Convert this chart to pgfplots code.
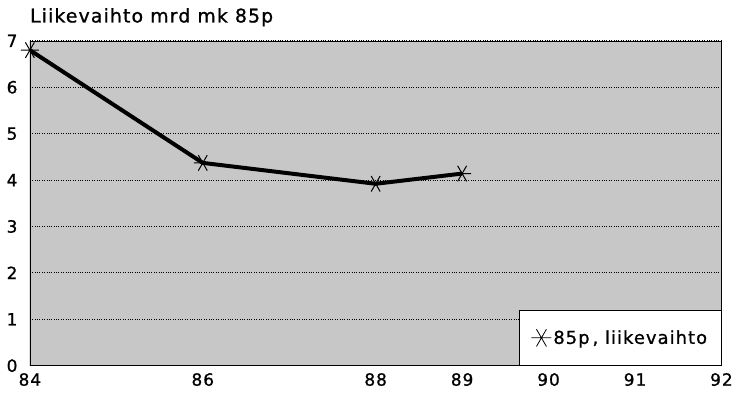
\documentclass[border=0pt]{standalone}
\usepackage{fontspec}
\setmainfont{DejaVu Sans}
\newfontfamily\chartfam{DejaVu Sans}[LetterSpace=6, UprightFeatures={FakeBold=1}]
\usepackage{pgfplots}
\pgfplotsset{compat=1.18}

\begin{document}
\begin{tikzpicture}
\begin{axis}[
  name=main,
  scale only axis, width=694bp, height=326bp,
  xmin=84, xmax=92, ymin=0, ymax=7,
  xtick={84,86,88,89,90,91,92},
  ytick={0,1,2,3,4,5,6,7},
  major tick length=0pt,
  ymajorgrids,
  grid style={black, dotted, line width=1bp},
  axis background/.style={fill=black!22},
  axis line style={black, line width=0.6bp},
  tick label style={font=\chartfam\fontsize{17}{17}\selectfont},
  xticklabel style={yshift=-4bp},
  yticklabel style={xshift=-9bp},
  /pgf/number format/assume math mode=true,
  title={Liikevaihto mrd mk 85p},
  title style={at={(rel axis cs:0,1)}, anchor=south west, inner xsep=0pt, yshift=5bp,
               font=\chartfam\fontsize{19}{19}\selectfont},
  legend style={at={(rel axis cs:1,0)}, anchor=south east, draw=black, line width=0.8bp,
                fill=white, font=\chartfam\fontsize{18}{18}\selectfont,
                inner xsep=12bp, inner ysep=18bp},
  legend cell align=left,
]
\addplot[black, line width=4bp, mark=asterisk, mark size=9bp,
         mark options={rotate=90, line width=1bp}, forget plot]
  coordinates {
    (84,6.8)
    (86,4.37)
    (88,3.92)
    (89,4.14)
  };
\addlegendimage{black, line width=0.8bp, only marks, mark=asterisk, mark size=10bp,
                mark options={rotate=90}}
\addlegendentry{85p\,, liikevaihto}
\draw[black, line width=2bp] (rel axis cs:0,1) -- (rel axis cs:0,0) -- (rel axis cs:1,0);
\end{axis}
\path (main.south west) ++(-30bp,-35bp) coordinate (padb);
\path (main.north west) ++(0,41bp) coordinate (padt);
\end{tikzpicture}
\end{document}
